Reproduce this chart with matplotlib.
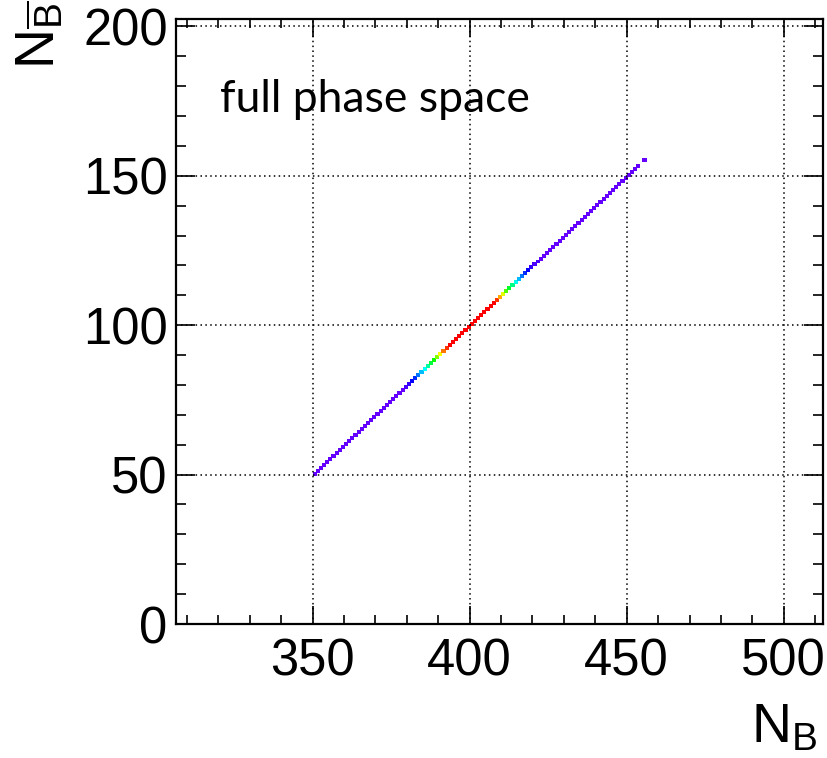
import numpy as np
import matplotlib
matplotlib.use("Agg")
import matplotlib.pyplot as plt
from matplotlib.colors import ListedColormap, Normalize
from matplotlib.ticker import MultipleLocator
import colorsys

plt.rcParams['font.family'] = ['Liberation Sans', 'DejaVu Sans']
plt.rcParams['mathtext.fontset'] = 'custom'
plt.rcParams['mathtext.rm'] = 'Liberation Sans'
plt.rcParams['mathtext.it'] = 'Liberation Sans'
plt.rcParams['mathtext.bf'] = 'Liberation Sans'

# ---- data ----
n_b = list(range(350, 454)) + [455]
n_bbar = [v - 300 for v in n_b]
counts = ([5] * 29 +                                  # 350-378
          [6, 8, 12, 17, 23, 29, 35, 42, 50, 57, 67, 77, 88, 95] +   # 379-392
          [100] * 15 +                                # 393-407
          [95, 84, 74, 62, 53, 44, 36, 29, 22, 16, 12, 9, 7, 6] +     # 408-421
          [5] * 32 +                                  # 422-453
          [5])                                        # 455

x_ticks = [350, 400, 450, 500]
y_ticks = [0, 50, 100, 150, 200]
x_range = (306.5, 512.5)
y_range = (0, 202.5)

# ROOT "pretty" palette: 50 HLS colours, hue 280 -> 0
root_cols = []
for i in range(50):
    hue = 280 - (i + 1) * (280 / 50)
    root_cols.append(colorsys.hls_to_rgb(hue / 360.0, 0.5, 1.0))
cmap = ListedColormap(root_cols)

fig = plt.figure(figsize=(8.27, 7.58), dpi=100)
ax = fig.add_axes([176 / 827, 1 - 624 / 758, 647 / 827, 605 / 758])

xedges = np.arange(300, 521, 1)
yedges = np.arange(0, 211, 1)
h = ax.hist2d(n_b, n_bbar, bins=[xedges, yedges], weights=counts, cmin=0.5,
              cmap=cmap, norm=Normalize(0, 100), zorder=1)
mesh = h[3]
mesh.set_edgecolor('face')
mesh.set_linewidth(0.6)

ax.set_xlim(*x_range)
ax.set_ylim(*y_range)
ax.set_xticks(x_ticks)
ax.set_yticks(y_ticks)
ax.xaxis.set_minor_locator(MultipleLocator(10))
ax.yaxis.set_minor_locator(MultipleLocator(10))

ax.grid(True, which='major', color='black', linestyle=(0, (1.0, 2.2)),
        linewidth=1.1, zorder=3)
ax.set_axisbelow(False)

ax.tick_params(which='both', direction='in', top=True, right=True,
               labelsize=36.5, width=1.2, colors='black')
ax.tick_params(axis='x', which='major', length=13, pad=10)
ax.tick_params(axis='x', which='minor', length=6.5)
ax.tick_params(axis='y', which='major', length=14, pad=6)
ax.tick_params(axis='y', which='minor', length=7)
for sp in ax.spines.values():
    sp.set_linewidth(1.6)

ax.set_xlabel(r'$\mathrm{N_{B}}$', fontsize=40, loc='right')
ax.xaxis.set_label_coords(0.992, -0.13)
ax.xaxis.label.set_va('top')
ax.set_ylabel(r'$\mathrm{N_{\overline{B}}}$', fontsize=40, loc='top')
ax.yaxis.set_label_coords(-0.170, 1.03)

ax.text(0.068, 0.846, 'full phase space', transform=ax.transAxes,
        fontsize=32, family=['Lato', 'DejaVu Sans'], va='baseline', ha='left')

fig.savefig('out.png', dpi=100, facecolor='white')
